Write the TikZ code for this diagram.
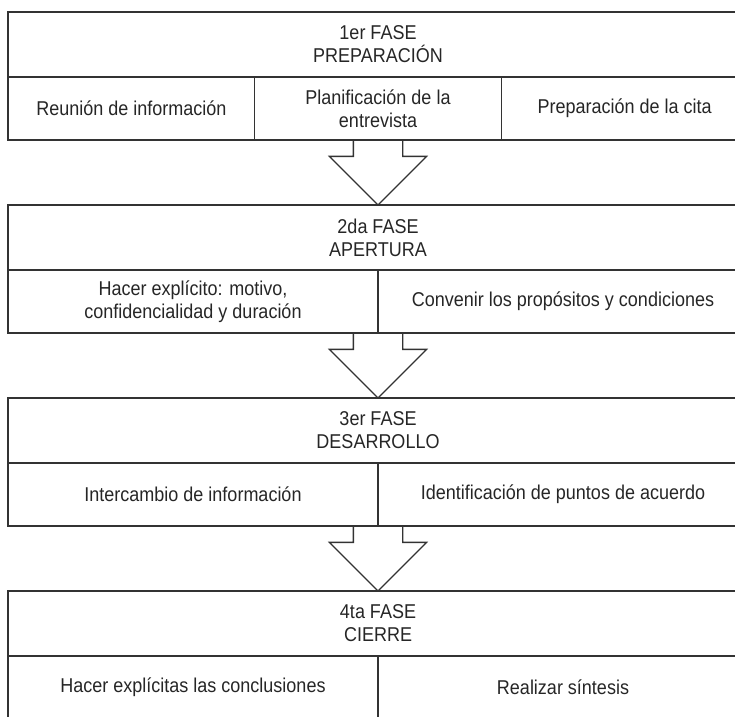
\documentclass[tikz,border=0pt]{standalone}
\usepackage{fontspec}
\setmainfont{Liberation Sans}[FakeStretch=0.9]
\usetikzlibrary{positioning,shapes.arrows}

\begin{document}
\begin{tikzpicture}
[every node/.style={draw=black!80,line width=1.3pt,inner sep=0pt,outer sep=0pt,
   text=black!85,align=center,font=\fontsize{20}{23}\selectfont},
 titulo/.style={rectangle,minimum width=740pt,minimum height=65pt},
 celdatres/.style={rectangle,minimum width=246.67pt,minimum height=63pt},
 celdados/.style={rectangle,minimum width=370pt,minimum height=63pt},
 flecha/.style={single arrow,rotate=-90,anchor=tail,inner xsep=0pt,inner ysep=24pt,
   minimum height=65pt,single arrow head extend=24pt,single arrow tip angle=90}]
\useasboundingbox (0pt,0pt) rectangle (735pt,-716pt);

% 1er fase
\node[titulo] (t1) at (378pt,-44.5pt) {1er FASE\\PREPARACIÓN};
\node[celdatres] (s1a) [below right=0pt and 0pt of t1.south west] {Reunión de información};
\node[celdatres] (s1b) [right=0pt of s1a] {Planificación de la\\entrevista};
\node[celdatres] (s1c) [right=0pt of s1b] {Preparación de la cita};
\node[flecha] (f1) at (s1b.south) {};

% 2da fase
\node[titulo] (t2) [below=0pt of f1.tip] {2da FASE\\APERTURA};
\node[celdados] (s2a) [below right=0pt and 0pt of t2.south west] {Hacer explícito: motivo,\\confidencialidad y duración};
\node[celdados] (s2b) [right=0pt of s2a] {Convenir los propósitos y condiciones};
\node[flecha] (f2) at (s2a.south east) {};

% 3er fase
\node[titulo] (t3) [below=0pt of f2.tip] {3er FASE\\DESARROLLO};
\node[celdados] (s3a) [below right=0pt and 0pt of t3.south west] {Intercambio de información};
\node[celdados] (s3b) [right=0pt of s3a] {Identificación de puntos de acuerdo};
\node[flecha] (f3) at (s3a.south east) {};

% 4ta fase
\node[titulo] (t4) [below=0pt of f3.tip] {4ta FASE\\CIERRE};
\node[celdados] (s4a) [below right=0pt and 0pt of t4.south west] {Hacer explícitas las conclusiones};
\node[celdados] (s4b) [right=0pt of s4a] {Realizar síntesis};
\end{tikzpicture}
\end{document}
